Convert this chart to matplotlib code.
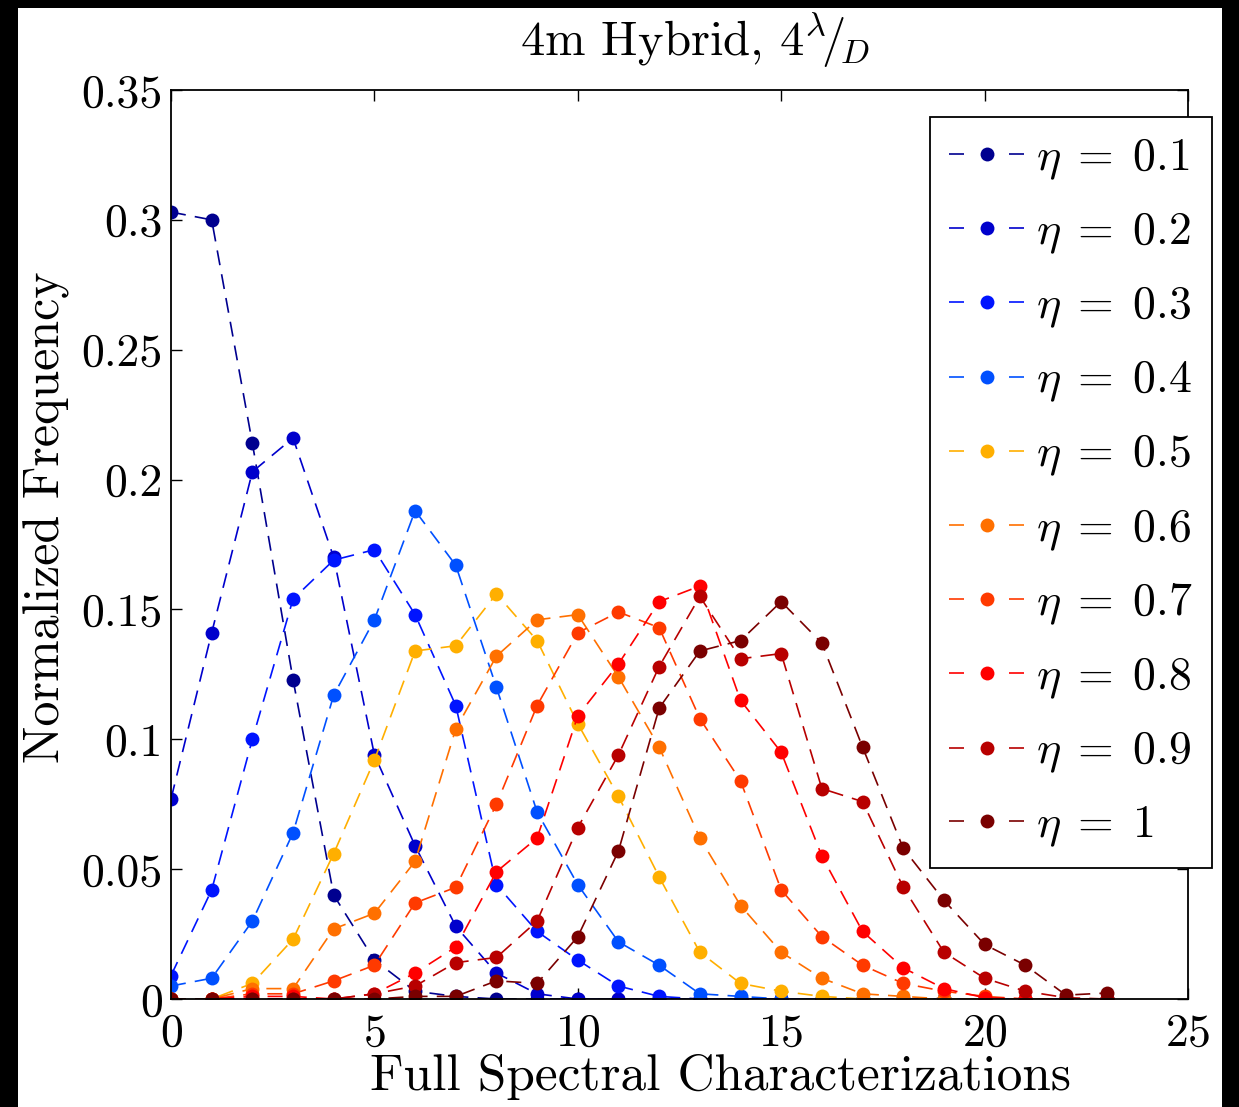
import numpy as np
import matplotlib
matplotlib.use("Agg")
import matplotlib.pyplot as plt
from matplotlib.lines import Line2D
from matplotlib.patches import Rectangle
from matplotlib.ticker import FormatStrFormatter

plt.rcParams["font.family"] = "cmr10"
plt.rcParams["mathtext.fontset"] = "cm"
plt.rcParams["axes.formatter.use_mathtext"] = True

######################### Data #########################

bins = np.arange(24)

eta_labels = ["0.1", "0.2", "0.3", "0.4", "0.5", "0.6", "0.7", "0.8", "0.9", "1"]

eta01 = [0.303, 0.300, 0.214, 0.123, 0.040, 0.015, 0.003, 0.001, 0, 0, 0, 0,
         0, 0, 0, 0, 0, 0, 0, 0, 0, 0, 0, 0]
eta02 = [0.077, 0.141, 0.203, 0.216, 0.170, 0.094, 0.059, 0.028, 0.010, 0.002, 0, 0,
         0, 0, 0, 0, 0, 0, 0, 0, 0, 0, 0, 0]
eta03 = [0.009, 0.042, 0.100, 0.154, 0.169, 0.173, 0.148, 0.113, 0.044, 0.026, 0.015, 0.005,
         0.001, 0, 0, 0, 0, 0, 0, 0, 0, 0, 0, 0]
eta04 = [0.005, 0.008, 0.030, 0.064, 0.117, 0.146, 0.188, 0.167, 0.120, 0.072, 0.044, 0.022,
         0.013, 0.002, 0.001, 0, 0, 0, 0, 0, 0, 0, 0, 0]
eta05 = [0, 0, 0.006, 0.023, 0.056, 0.092, 0.134, 0.136, 0.156, 0.138, 0.106, 0.078,
         0.047, 0.018, 0.006, 0.003, 0.001, 0, 0, 0, 0, 0, 0, 0]
eta06 = [0, 0, 0.004, 0.004, 0.027, 0.033, 0.053, 0.104, 0.132, 0.146, 0.148, 0.124,
         0.097, 0.062, 0.036, 0.018, 0.008, 0.002, 0.001, 0, 0, 0, 0, 0]
eta07 = [0, 0, 0.002, 0.002, 0.007, 0.013, 0.037, 0.043, 0.075, 0.113, 0.141, 0.149,
         0.143, 0.108, 0.084, 0.042, 0.024, 0.013, 0.006, 0.003, 0.001, 0, 0, 0]
eta08 = [0, 0, 0.001, 0.001, 0, 0.002, 0.010, 0.020, 0.049, 0.062, 0.109, 0.129,
         0.153, 0.159, 0.115, 0.095, 0.055, 0.026, 0.012, 0.004, 0.0005, 0, 0, 0]
eta09 = [0, 0, 0, 0, 0, 0.002, 0.005, 0.014, 0.016, 0.030, 0.066, 0.094,
         0.128, 0.155, 0.131, 0.133, 0.081, 0.076, 0.043, 0.018, 0.008, 0.003, 0.0005, 0]
eta10 = [0, 0, 0, 0, 0, 0, 0.001, 0.001, 0.007, 0.006, 0.024, 0.057,
         0.112, 0.134, 0.138, 0.153, 0.137, 0.097, 0.058, 0.038, 0.021, 0.013, 0.0015, 0.0023]

series = [eta01, eta02, eta03, eta04, eta05, eta06, eta07, eta08, eta09, eta10]

colors = ["#00008F", "#0000CC", "#0014FF", "#0050FF", "#FFAF00",
          "#FF7000", "#FF3A00", "#FF0000", "#B80000", "#7A0000"]

######################### Plot #########################

W, H = 1239, 1107
fig = plt.figure(figsize=(W / 100, H / 100), dpi=100)
fig.set_facecolor("black")
# white page inside the dark screenshot frame
fig.patches.append(Rectangle((18 / W, 0), (1222 - 18) / W, (H - 8) / H,
                             transform=fig.transFigure, facecolor="white",
                             edgecolor="none", zorder=-1))

ax = fig.add_axes([171 / W, 1 - 999 / H, (1188 - 171) / W, (999 - 90) / H])

lw = 1.2
for y, c in zip(series, colors):
    ax.plot(bins, y, linestyle=(0, (9, 5.5)), linewidth=lw, color=c,
            marker="o", markersize=10, markeredgewidth=0)

ax.set_xlim(0, 25)
ax.set_ylim(0, 0.35)
ax.set_xticks(np.arange(0, 26, 5))
ax.set_yticks(np.arange(0, 0.351, 0.05))
ax.yaxis.set_major_formatter(FormatStrFormatter("%g"))
ax.tick_params(direction="in", length=8, width=1.0, top=True, right=True,
               labelsize=33)
ax.tick_params(axis="x", pad=10)
ax.tick_params(axis="y", pad=6)
for s in ax.spines.values():
    s.set_linewidth(1.3)

ax.set_xlabel("Full Spectral Characterizations", fontsize=37)
ax.set_ylabel("Normalized Frequency", fontsize=36)
ax.xaxis.set_label_coords((720 - 171) / 1017, (999 - 1054) / 909)
ax.yaxis.set_label_coords((70 - 171) / 1017, (999 - 517) / 909)

fig.text(695 / W, 1 - 56 / H, r"4m Hybrid, $4^{\lambda}\!/\!_{D}$",
         fontsize=35, ha="center", va="baseline")

handles = [Line2D([], [], color=c, linestyle=(0, (10.8 / lw, 32.4 / lw)),
                  linewidth=lw, marker="o", markersize=10, markeredgewidth=0)
           for c in colors]
labels = [r"$\eta\;=\;%s$" % e for e in eta_labels]
leg = ax.legend(handles, labels, loc="upper right", fontsize=33,
                bbox_to_anchor=(1212 / W, 1 - 117 / H),
                bbox_transform=fig.transFigure, borderaxespad=0,
                fancybox=False, framealpha=1, edgecolor="black",
                handlelength=1.65, handletextpad=0.25, borderpad=0.42,
                labelspacing=0.63, numpoints=1)
leg.get_frame().set_linewidth(1.3)

plt.savefig("out.png", dpi=100, facecolor=fig.get_facecolor())
